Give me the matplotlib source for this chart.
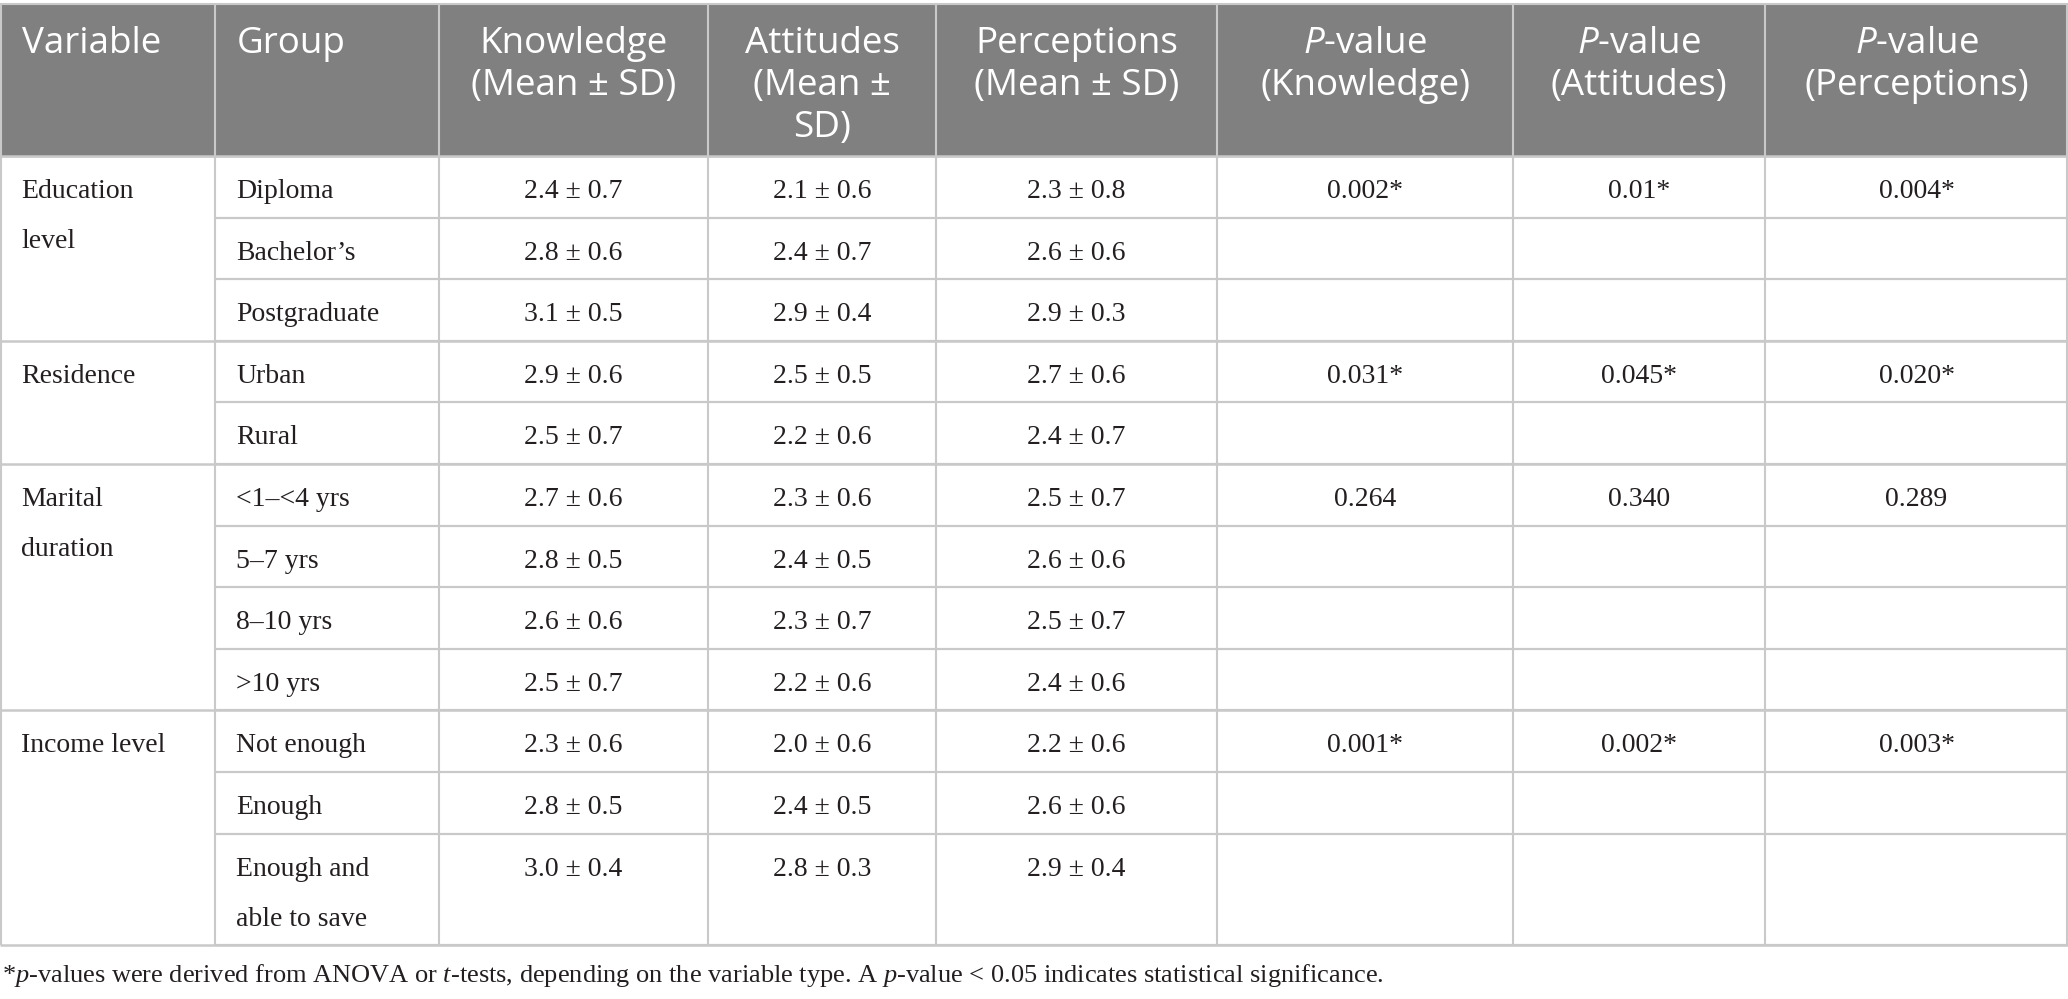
import matplotlib
matplotlib.use("Agg")
import matplotlib.pyplot as plt
from matplotlib.patches import Rectangle

plt.rcParams['mathtext.fontset'] = 'custom'
plt.rcParams['mathtext.it'] = 'Liberation Serif:italic'
plt.rcParams['mathtext.rm'] = 'Liberation Serif'
plt.rcParams['mathtext.sf'] = 'Open Sans:italic'

# table content
headers = ["Variable", "Group", "Knowledge\n(Mean ± SD)", "Attitudes\n(Mean ±\nSD)",
           "Perceptions\n(Mean ± SD)", r"$\mathsf{P}$-value" + "\n(Knowledge)",
           r"$\mathsf{P}$-value" + "\n(Attitudes)", r"$\mathsf{P}$-value" + "\n(Perceptions)"]
variables = ["Education\nlevel", "Residence", "Marital\nduration", "Income level"]
groups = [["Diploma", "Bachelor’s", "Postgraduate"],
          ["Urban", "Rural"],
          ["<1–<4 yrs", "5–7 yrs", "8–10 yrs", ">10 yrs"],
          ["Not enough", "Enough", "Enough and\nable to save"]]
know_mean = [2.4, 2.8, 3.1, 2.9, 2.5, 2.7, 2.8, 2.6, 2.5, 2.3, 2.8, 3.0]
know_sd = [0.7, 0.6, 0.5, 0.6, 0.7, 0.6, 0.5, 0.6, 0.7, 0.6, 0.5, 0.4]
att_mean = [2.1, 2.4, 2.9, 2.5, 2.2, 2.3, 2.4, 2.3, 2.2, 2.0, 2.4, 2.8]
att_sd = [0.6, 0.7, 0.4, 0.5, 0.6, 0.6, 0.5, 0.7, 0.6, 0.6, 0.5, 0.3]
perc_mean = [2.3, 2.6, 2.9, 2.7, 2.4, 2.5, 2.6, 2.5, 2.4, 2.2, 2.6, 2.9]
perc_sd = [0.8, 0.6, 0.3, 0.6, 0.7, 0.7, 0.6, 0.7, 0.6, 0.6, 0.6, 0.4]
p_know = ["0.002*", "0.031*", "0.264", "0.001*"]
p_att = ["0.01*", "0.045*", "0.340", "0.002*"]
p_perc = ["0.004*", "0.020*", "0.289", "0.003*"]
footnote = (r"*$\mathit{p}$-values were derived from ANOVA or $\mathit{t}$-tests, depending on the "
            r"variable type. A $\mathit{p}$-value < 0.05 indicates statistical significance.")

# layout (pixels)
W, H = 2068, 999
col_x = [0, 215, 439, 708, 936, 1217, 1513, 1765, 2068]
top, head_bot = 4, 156
row_h, line_h = 61.6, 50
grid = "#c9c9c9"
head_bg = "#808080"
ink = "#231f20"

fig = plt.figure(figsize=(W / 100, H / 100), dpi=100)
ax = fig.add_axes([0, 0, 1, 1])
ax.set_xlim(0, W)
ax.set_ylim(H, 0)
ax.axis("off")

ax.add_patch(Rectangle((0, top), W, head_bot - top, color=head_bg, zorder=0))

head_font = dict(family="Open Sans", fontsize=26.5, color="white", va="baseline")
for i, h in enumerate(headers):
    for j, line in enumerate(h.split("\n")):
        if i < 2:
            ax.text(col_x[i] + 22, 53 + 42 * j, line, ha="left", **head_font)
        else:
            ax.text((col_x[i] + col_x[i + 1]) / 2, 53 + 42 * j, line, ha="center", **head_font)

body_font = dict(family="Liberation Serif", fontsize=20, color=ink, va="baseline")


def put_lines(x, y, s, ha):
    for j, line in enumerate(s.split("\n")):
        ax.text(x, y + line_h * j, line, ha=ha, **body_font)


y = head_bot
k = 0
group_lines = [head_bot]
inner_lines = []
for v, var in enumerate(variables):
    put_lines(col_x[0] + 21, y + 42, var, "left")
    for c, pv in zip([5, 6, 7], [p_know[v], p_att[v], p_perc[v]]):
        put_lines((col_x[c] + col_x[c + 1]) / 2, y + 42, pv, "center")
    for g in groups[v]:
        put_lines(col_x[1] + 21, y + 42, g, "left")
        cells = [f"{know_mean[k]:.1f} ± {know_sd[k]:.1f}",
                 f"{att_mean[k]:.1f} ± {att_sd[k]:.1f}",
                 f"{perc_mean[k]:.1f} ± {perc_sd[k]:.1f}"]
        for c, txt in zip([2, 3, 4], cells):
            put_lines((col_x[c] + col_x[c + 1]) / 2, y + 42, txt, "center")
        y += row_h + line_h * (g.count("\n"))
        inner_lines.append(y)
        k += 1
    group_lines.append(y)
bottom = y

ax.hlines(inner_lines, col_x[1], W, color=grid, lw=1.6)
ax.hlines(group_lines, 0, W, color=grid, lw=1.8)
ax.hlines([top], 0, W, color=grid, lw=1.5)
ax.vlines(col_x[1:-1], top, bottom, color=grid, lw=1.5)
ax.vlines([1, W - 1], top, bottom, color=grid, lw=1.5)

ax.text(2, 982, footnote, ha="left", family="Liberation Serif", fontsize=19,
        color=ink, va="baseline")

fig.savefig("out.png", dpi=100)
